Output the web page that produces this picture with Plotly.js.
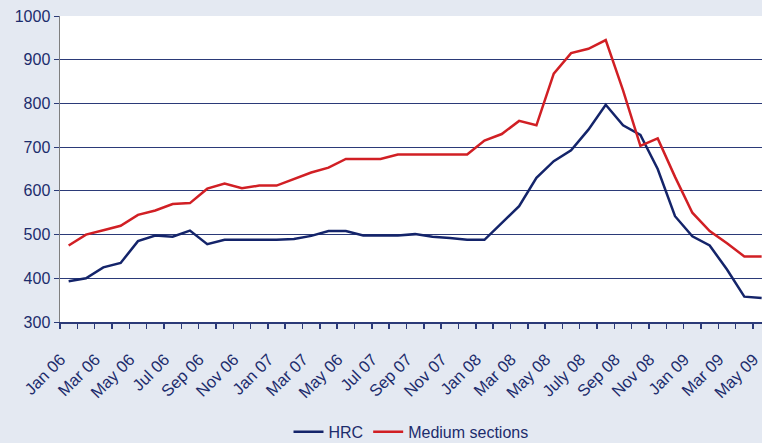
<!DOCTYPE html>
<html>
<head>
<meta charset="utf-8">
<script src="https://cdn.plot.ly/plotly-3.0.1.min.js"></script>
<style>
  html, body { margin: 0; padding: 0; background: #e4e9f2; }
  #chart { width: 762px; height: 443px; }
</style>
</head>
<body>
<div id="chart"></div>
<script>
// monthly prices, Jan 06 .. May 09
const months = [
  "Jan 06", "Feb 06", "Mar 06", "Apr 06", "May 06", "Jun 06", "Jul 06", "Aug 06",
  "Sep 06", "Oct 06", "Nov 06", "Dec 06", "Jan 07", "Feb 07", "Mar 07", "Apr 07",
  "May 07", "Jun 07", "Jul 07", "Aug 07", "Sep 07", "Oct 07", "Nov 07", "Dec 07",
  "Jan 08", "Feb 08", "Mar 08", "Apr 08", "May 08", "Jun 08", "Jul 08", "Aug 08",
  "Sep 08", "Oct 08", "Nov 08", "Dec 08", "Jan 09", "Feb 09", "Mar 09", "Apr 09",
  "May 09",
];

const hrc = [
  393, 400, 425, 435, 485, 498, 495, 509, 478, 488, 488, 488, 488, 490, 497, 508,
  508, 498, 498, 498, 501, 495, 492, 488, 488, 526, 565, 630, 668, 693, 740, 797,
  750, 728, 650, 542, 496, 475, 420, 358, 355,
];

const mediumSections = [
  475, 500, 510, 520, 545, 555, 570, 572, 605, 617, 606, 612, 612, 627, 642, 653,
  673, 673, 673, 683, 683, 683, 683, 683, 715, 730, 760, 750, 868, 915, 925, 945,
  830, 703, 720, 632, 550, 508, 480, 450, 450,
];

// labels as printed on the original (every second month)
const tickText = [
  "Jan 06", "Mar 06", "May 06", "Jul 06", "Sep 06", "Nov 06", "Jan 07", "Mar 07",
  "May 06", "Jul 07", "Sep 07", "Nov 07", "Jan 08", "Mar 08", "May 08", "July 08",
  "Sep 08", "Nov 08", "Jan 09", "Mar 09", "May 09",
];

const COLORS = {
  hrc: "#14246a",
  medium: "#d11f24",
  text: "#1c2c6c",
  grid: "#2b3a78",
  bg: "#e4e9f2",
};

const xIdx = months.map((m, i) => i);
const tickVals = tickText.map((t, i) => i * 2);

const traces = [
  {
    x: xIdx,
    y: hrc,
    type: "scatter",
    mode: "lines",
    name: "HRC",
    text: months,
    line: { color: COLORS.hrc, width: 2.5 },
  },
  {
    x: xIdx,
    y: mediumSections,
    type: "scatter",
    mode: "lines",
    name: "Medium sections",
    text: months,
    line: { color: COLORS.medium, width: 2.5 },
  },
];

const layout = {
  width: 762,
  height: 443,
  font: { family: "Liberation Sans, Arial, sans-serif", size: 16, color: COLORS.text },
  paper_bgcolor: COLORS.bg,
  plot_bgcolor: "#ffffff",
  margin: { t: 16, r: 0, b: 121, l: 60, autoexpand: false },
  showlegend: true,
  legend: {
    orientation: "h",
    x: 0.5,
    xanchor: "center",
    yref: "container",
    y: 0.025,
    yanchor: "middle",
    bgcolor: "rgba(0,0,0,0)",
    font: { size: 16, color: COLORS.text },
  },
  xaxis: {
    range: [-0.5, 40.02],
    automargin: false,
    tickmode: "array",
    tickvals: tickVals,
    ticktext: tickText,
    tickangle: -45,
    ticks: "",
    ticklabelstandoff: 20,
    ticklabelshift: -8,
    ticklabeloverflow: "allow",
    showgrid: false,
    zeroline: false,
    showline: true,
    linecolor: COLORS.grid,
    linewidth: 1.5,
    minor: {
      tickmode: "linear",
      tick0: -0.5,
      dtick: 1,
      ticks: "outside",
      ticklen: 5,
      tickwidth: 1.5,
      tickcolor: COLORS.grid,
      showgrid: false,
    },
    tickfont: { size: 16.5, color: COLORS.text },
  },
  yaxis: {
    range: [300, 1000],
    automargin: false,
    dtick: 100,
    ticks: "outside",
    ticklen: 5,
    tickcolor: COLORS.grid,
    gridcolor: COLORS.grid,
    gridwidth: 1,
    zeroline: false,
    showline: true,
    linecolor: "#7f7f7f",
    linewidth: 1.5,
    tickfont: { size: 16, color: COLORS.text },
  },
};

Plotly.newPlot("chart", traces, layout, { displayModeBar: false, staticPlot: true });
</script>
</body>
</html>
